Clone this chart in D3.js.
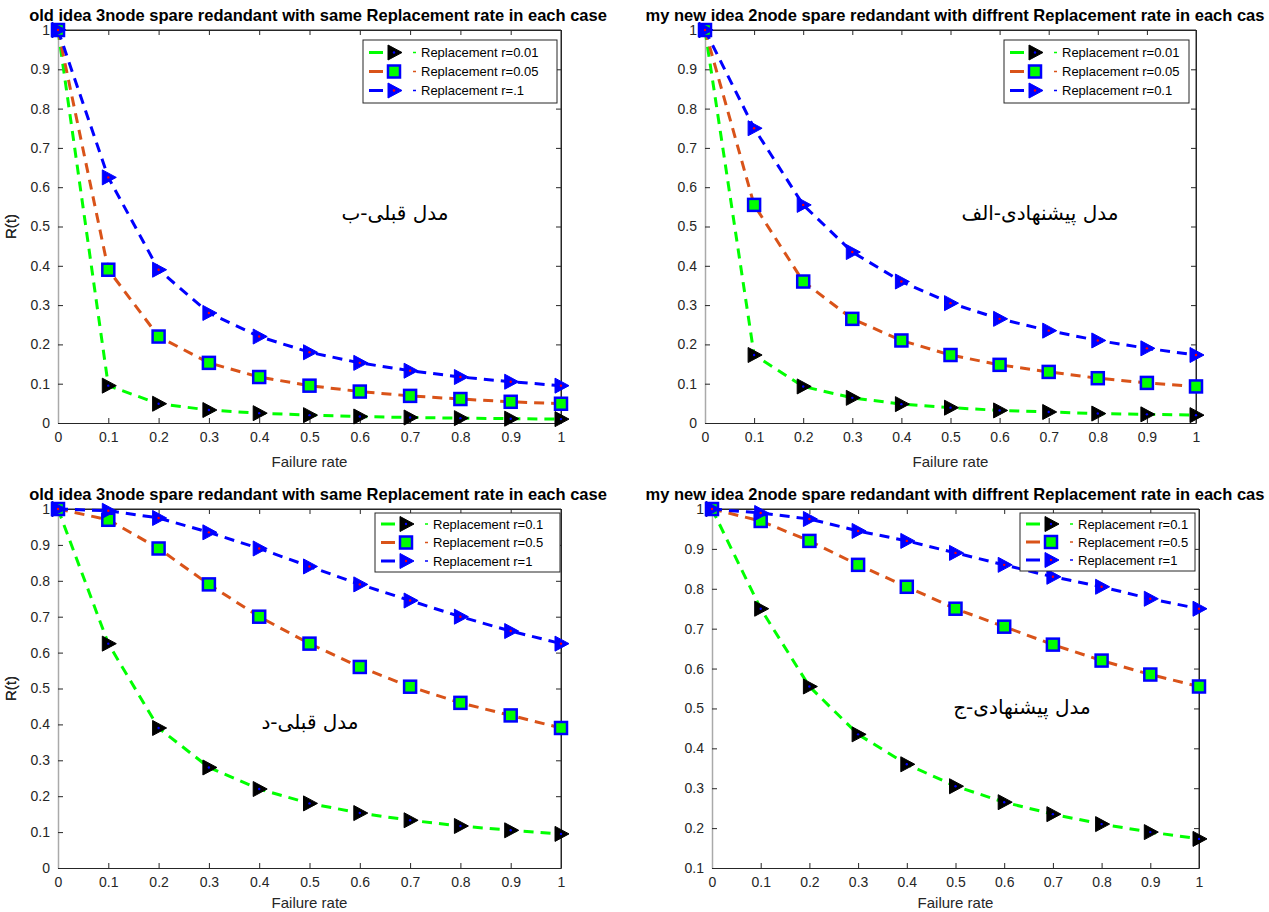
<!DOCTYPE html>
<html><head><meta charset="utf-8">
<script src="https://cdn.jsdelivr.net/npm/d3@7"></script>
<style>body{margin:0;background:#fff}svg{display:block}</style>
</head><body><div id="chart"></div>
<script>
const failureRate = [0,0.1,0.2,0.3,0.4,0.5,0.6,0.7,0.8,0.9,1];
const xTicks = [0,0.1,0.2,0.3,0.4,0.5,0.6,0.7,0.8,0.9,1];
const yTicksA = [0,0.1,0.2,0.3,0.4,0.5,0.6,0.7,0.8,0.9,1];
const yTicksB = [0.1,0.2,0.3,0.4,0.5,0.6,0.7,0.8,0.9,1];

// Panel 1: old idea, r = 0.01 / 0.05 / .1
const oldLowR001 = [1,0.095,0.049,0.033,0.025,0.020,0.0165,0.014,0.0124,0.011,0.0099];
const oldLowR005 = [1,0.39,0.22,0.153,0.117,0.095,0.080,0.069,0.061,0.054,0.049];
const oldLowR01  = [1,0.625,0.39,0.28,0.22,0.18,0.153,0.133,0.117,0.105,0.095];
// Panel 2: new idea, r = 0.01 / 0.05 / 0.1
const newLowR001 = [1,0.173,0.093,0.064,0.048,0.039,0.032,0.028,0.024,0.022,0.020];
const newLowR005 = [1,0.555,0.36,0.265,0.21,0.173,0.148,0.13,0.114,0.102,0.093];
const newLowR01  = [1,0.75,0.555,0.435,0.36,0.305,0.265,0.235,0.21,0.19,0.173];
// Panel 3: old idea, r = 0.1 / 0.5 / 1
const oldHighR01 = [1,0.625,0.39,0.28,0.22,0.18,0.153,0.133,0.117,0.105,0.095];
const oldHighR05 = [1,0.97,0.89,0.79,0.70,0.625,0.56,0.505,0.46,0.425,0.39];
const oldHighR1  = [1,0.995,0.975,0.935,0.89,0.84,0.79,0.745,0.70,0.66,0.625];
// Panel 4: new idea, r = 0.1 / 0.5 / 1
const newHighR01 = [1,0.75,0.555,0.435,0.36,0.305,0.265,0.235,0.21,0.19,0.173];
const newHighR05 = [1,0.97,0.92,0.86,0.805,0.75,0.705,0.66,0.62,0.585,0.555];
const newHighR1  = [1,0.99,0.975,0.945,0.92,0.89,0.86,0.83,0.805,0.775,0.75];

const titleOld = "old idea 3node spare redandant with same Replacement rate in each case";
const titleNew = "my new idea 2node spare redandant with diffrent Replacement rate in each cas";
const legendLow1 = ["Replacement r=0.01","Replacement r=0.05","Replacement r=.1"];
const legendLow2 = ["Replacement r=0.01","Replacement r=0.05","Replacement r=0.1"];
const legendHigh = ["Replacement r=0.1","Replacement r=0.5","Replacement r=1"];
const notes = ["مدل قبلی-ب","مدل پیشنهادی-الف","مدل قبلی-د","مدل پیشنهادی-ج"];

const panels = [
  {title:titleOld, series:[oldLowR001,oldLowR005,oldLowR01], legend:legendLow1, yDomain:[0,1], yTicks:yTicksA,
   box:{l:58,r:561,t:30,b:423}, xlab:44, tx:318, ty:21, leg:{x:363,y:40,w:194,h:63,sp:19}, note:{x:395,y:220,t:notes[0]}},
  {title:titleNew, series:[newLowR001,newLowR005,newLowR01], legend:legendLow2, yDomain:[0,1], yTicks:yTicksA,
   box:{l:705,r:1196,t:30,b:423}, xlab:44, tx:955, ty:21, leg:{x:1004,y:40,w:185,h:63,sp:19}, note:{x:1040,y:220,t:notes[1]}},
  {title:titleOld, series:[oldHighR01,oldHighR05,oldHighR1], legend:legendHigh, yDomain:[0,1], yTicks:yTicksA,
   box:{l:58,r:561,t:509,b:868}, xlab:40, tx:318, ty:500, leg:{x:375,y:513,w:185,h:59,sp:18.5}, note:{x:310,y:729,t:notes[2]}},
  {title:titleNew, series:[newHighR01,newHighR05,newHighR1], legend:legendHigh, yDomain:[0.1,1], yTicks:yTicksB,
   box:{l:712,r:1199,t:509,b:868}, xlab:40, tx:955, ty:500, leg:{x:1020,y:513,w:175,h:58,sp:18}, note:{x:1022,y:714,t:notes[3]}}
];

const styles = [
  {line:"#00FF00", marker:"tri", fill:"#000", stroke:"#000", dot:"#0000FF"},
  {line:"#D95319", marker:"sq", fill:"#00FF00", stroke:"#0000FF", dot:null},
  {line:"#0000FF", marker:"tri", fill:"#0000FF", stroke:"#0000FF", dot:"#FF0000"}
];

const W=1269,H=912;
const svg = d3.select("#chart").append("svg").attr("width",W).attr("height",H)
  .style("font-family","'Liberation Sans',Arial,sans-serif");

function drawMarker(g, st, cx, cy){
  if(st.marker==="tri"){
    g.append("path").attr("d",`M${cx-6},${cy-7.5}L${cx+8},${cy}L${cx-6},${cy+7.5}Z`)
      .attr("fill",st.fill).attr("stroke",st.stroke).attr("stroke-width",1);
    g.append("circle").attr("cx",cx).attr("cy",cy).attr("r",1.2).attr("fill",st.dot);
  } else {
    g.append("rect").attr("x",cx-6).attr("y",cy-6).attr("width",12).attr("height",12)
      .attr("fill",st.fill).attr("stroke",st.stroke).attr("stroke-width",2.5);
  }
}

panels.forEach(p=>{
  const b=p.box;
  const x=d3.scaleLinear().domain([0,1]).range([b.l,b.r]);
  const y=d3.scaleLinear().domain(p.yDomain).range([b.b,b.t]);
  const g=svg.append("g");
  g.append("line").attr("x1",b.l).attr("x2",b.r).attr("y1",b.t).attr("y2",b.t).attr("stroke","#262626");
  g.append("line").attr("x1",b.r).attr("x2",b.r).attr("y1",b.t).attr("y2",b.b).attr("stroke","#262626");
  const xa=g.append("g").attr("transform",`translate(0,${b.b})`)
    .call(d3.axisBottom(x).tickValues(xTicks).tickFormat(d3.format("~g")).tickSizeInner(-5).tickSizeOuter(0).tickPadding(9));
  const xt=g.append("g").attr("transform",`translate(0,${b.t})`)
    .call(d3.axisTop(x).tickValues(xTicks).tickFormat("").tickSizeInner(-5).tickSizeOuter(0));
  const ya=g.append("g").attr("transform",`translate(${b.l},0)`)
    .call(d3.axisLeft(y).tickValues(p.yTicks).tickFormat(d3.format("~g")).tickSizeInner(-5).tickSizeOuter(0).tickPadding(8));
  const yr=g.append("g").attr("transform",`translate(${b.r},0)`)
    .call(d3.axisRight(y).tickValues(p.yTicks).tickFormat("").tickSizeInner(-5).tickSizeOuter(0));
  [xa,xt,ya,yr].forEach(a=>{
    a.selectAll("path").attr("stroke","#262626");
    a.selectAll("line").attr("stroke","#262626");
    a.selectAll("text").attr("fill","#262626").style("font-size","14px").style("font-family","'Liberation Sans',Arial,sans-serif");
  });
  ya.select("path.domain").attr("stroke","#aaaaaa").attr("stroke-width",1.5);
  g.append("text").attr("x",(b.l+b.r)/2).attr("y",b.b+p.xlab).attr("text-anchor","middle")
    .attr("fill","#262626").style("font-size","15px").text("Failure rate");
  g.append("text").attr("transform",`translate(16,${(b.t+b.b)/2}) rotate(-90)`).attr("text-anchor","middle")
    .attr("fill","#262626").style("font-size","15px").text("R(t)");
  g.append("text").attr("x",p.tx).attr("y",p.ty).attr("text-anchor","middle")
    .attr("fill","#000").style("font-size","16.5px").style("font-weight","bold").text(p.title);
  const lineGen=d3.line().x((d,i)=>x(failureRate[i])).y(d=>y(d));
  p.series.forEach((s,si)=>{
    const st=styles[si];
    g.append("path").datum(s).attr("d",lineGen).attr("fill","none").attr("stroke",st.line)
      .attr("stroke-width",3).attr("stroke-dasharray","10,7");
  });
  p.series.forEach((s,si)=>{
    const st=styles[si];
    const mg=g.append("g");
    s.forEach((v,i)=>drawMarker(mg,st,x(failureRate[i]),y(v)));
  });
  g.append("text").attr("x",p.note.x).attr("y",p.note.y).attr("text-anchor","middle")
    .attr("direction","rtl").style("font-family","'DejaVu Sans','Noto Sans',sans-serif")
    .style("font-size","20px").attr("fill","#000").text(p.note.t);
  const L=p.leg;
  g.append("rect").attr("x",L.x).attr("y",L.y).attr("width",L.w).attr("height",L.h)
    .attr("fill","#fff").attr("stroke","#262626").attr("stroke-width",1);
  p.legend.forEach((t,i)=>{
    const st=styles[i];
    const cy=L.y+L.h/2+(i-1)*L.sp;
    g.append("line").attr("x1",L.x+6).attr("x2",L.x+20).attr("y1",cy).attr("y2",cy)
      .attr("stroke",st.line).attr("stroke-width",3);
    drawMarker(g,st,L.x+31,cy);
    g.append("line").attr("x1",L.x+50).attr("x2",L.x+53).attr("y1",cy).attr("y2",cy)
      .attr("stroke",st.line).attr("stroke-width",1.5);
    g.append("text").attr("x",L.x+58).attr("y",cy+4.5).attr("fill","#000")
      .style("font-size","13px").text(t);
  });
});
</script></body></html>
